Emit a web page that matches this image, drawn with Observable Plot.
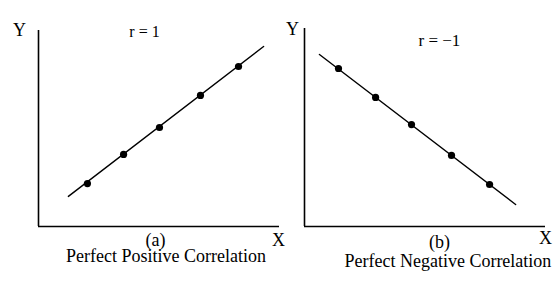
<!DOCTYPE html>
<html>
<head>
<meta charset="utf-8">
<script src="https://cdn.jsdelivr.net/npm/d3@7"></script>
<script src="https://cdn.jsdelivr.net/npm/@observablehq/plot@0.6"></script>
<style>
  html, body { margin: 0; padding: 0; background: #fff; }
  svg { display: block; }
</style>
</head>
<body>
<div id="chart"></div>
<script>
// Panels
const panels = ["a", "b"];
// Panel (a): perfect positive correlation
const posX = [2.03, 3.53, 5.02, 6.72, 8.30];
const posY = [2.17, 3.64, 5.00, 6.62, 8.08];
const posLineX = [1.24, 9.34];
const posLineY = [1.52, 9.09];
// Panel (b): perfect negative correlation
const negX = [1.41, 2.95, 4.44, 6.10, 7.68];
const negY = [7.98, 6.52, 5.15, 3.59, 2.12];
const negLineX = [0.62, 8.76];
const negLineY = [8.69, 1.11];
// Texts
const rLabels = ["r = 1", "r = \u22121"];
const panelLetters = ["(a)", "(b)"];
const captions = ["Perfect Positive Correlation", "Perfect Negative Correlation"];
const axisNames = ["X", "Y"];

const points = [
  ...posX.map((x, i) => ({panel: "a", x, y: posY[i]})),
  ...negX.map((x, i) => ({panel: "b", x, y: negY[i]}))
];
const lines = [
  ...posLineX.map((x, i) => ({panel: "a", x, y: posLineY[i]})),
  ...negLineX.map((x, i) => ({panel: "b", x, y: negLineY[i]}))
];
const yAxes = [
  {panel: "a", x: 0, y1: 0, y2: 9.9},
  {panel: "b", x: 0, y1: 0, y2: 10}
];
const xAxes = [
  {panel: "a", y: 0, x1: 0, x2: 10},
  {panel: "b", y: 0, x1: 0, x2: 10}
];
const rText = [
  {panel: "a", text: rLabels[0], x: 4.40, y: 9.55, size: 16},
  {panel: "b", text: rLabels[1], x: 5.60, y: 9.14, size: 17}
];
const letterText = [
  {panel: "a", text: panelLetters[0], x: 4.85, y: -1.01},
  {panel: "b", text: panelLetters[1], x: 5.60, y: -1.11}
];
const captionText = [
  {panel: "a", text: captions[0], x: 5.29, y: -1.77},
  {panel: "b", text: captions[1], x: 5.95, y: -2.07}
];
const axisText = [
  {panel: "a", text: axisNames[0], x: 9.96, y: -0.96},
  {panel: "b", text: axisNames[0], x: 10.0, y: -0.86},
  {panel: "a", text: axisNames[1], x: -0.79, y: 9.6},
  {panel: "b", text: axisNames[1], x: -0.50, y: 9.65}
];

const chart = Plot.plot({
  width: 560,
  height: 284,
  marginLeft: 38,
  marginRight: 15,
  marginTop: 28,
  marginBottom: 58,
  x: {domain: [0, 10], axis: null},
  y: {domain: [0, 10], axis: null},
  fx: {domain: panels, paddingInner: 0.094, paddingOuter: 0, axis: null},
  style: {fontFamily: "'Liberation Serif', 'Times New Roman', serif", background: "#fff", color: "#000"},
  marks: [
    Plot.ruleX(yAxes, {fx: "panel", x: "x", y1: "y1", y2: "y2", stroke: "#000", strokeWidth: 1.6}),
    Plot.ruleY(xAxes, {fx: "panel", y: "y", x1: "x1", x2: "x2", stroke: "#000", strokeWidth: 1.6}),
    Plot.line(lines, {fx: "panel", x: "x", y: "y", z: "panel", stroke: "#000", strokeWidth: 1.4}),
    Plot.dot(points, {fx: "panel", x: "x", y: "y", r: 3.6, fill: "#000", stroke: "none"}),
    Plot.text(rText, {fx: "panel", x: "x", y: "y", text: "text", fontSize: "size", lineAnchor: "bottom", fill: "#000"}),
    Plot.text(letterText, {fx: "panel", x: "x", y: "y", text: "text", fontSize: 18, lineAnchor: "bottom", fill: "#000"}),
    Plot.text(captionText, {fx: "panel", x: "x", y: "y", text: "text", fontSize: 18, lineAnchor: "bottom", fill: "#000"}),
    Plot.text(axisText, {fx: "panel", x: "x", y: "y", text: "text", fontSize: 18, lineAnchor: "bottom", fill: "#000"})
  ]
});
document.getElementById("chart").appendChild(chart);
</script>
</body>
</html>
